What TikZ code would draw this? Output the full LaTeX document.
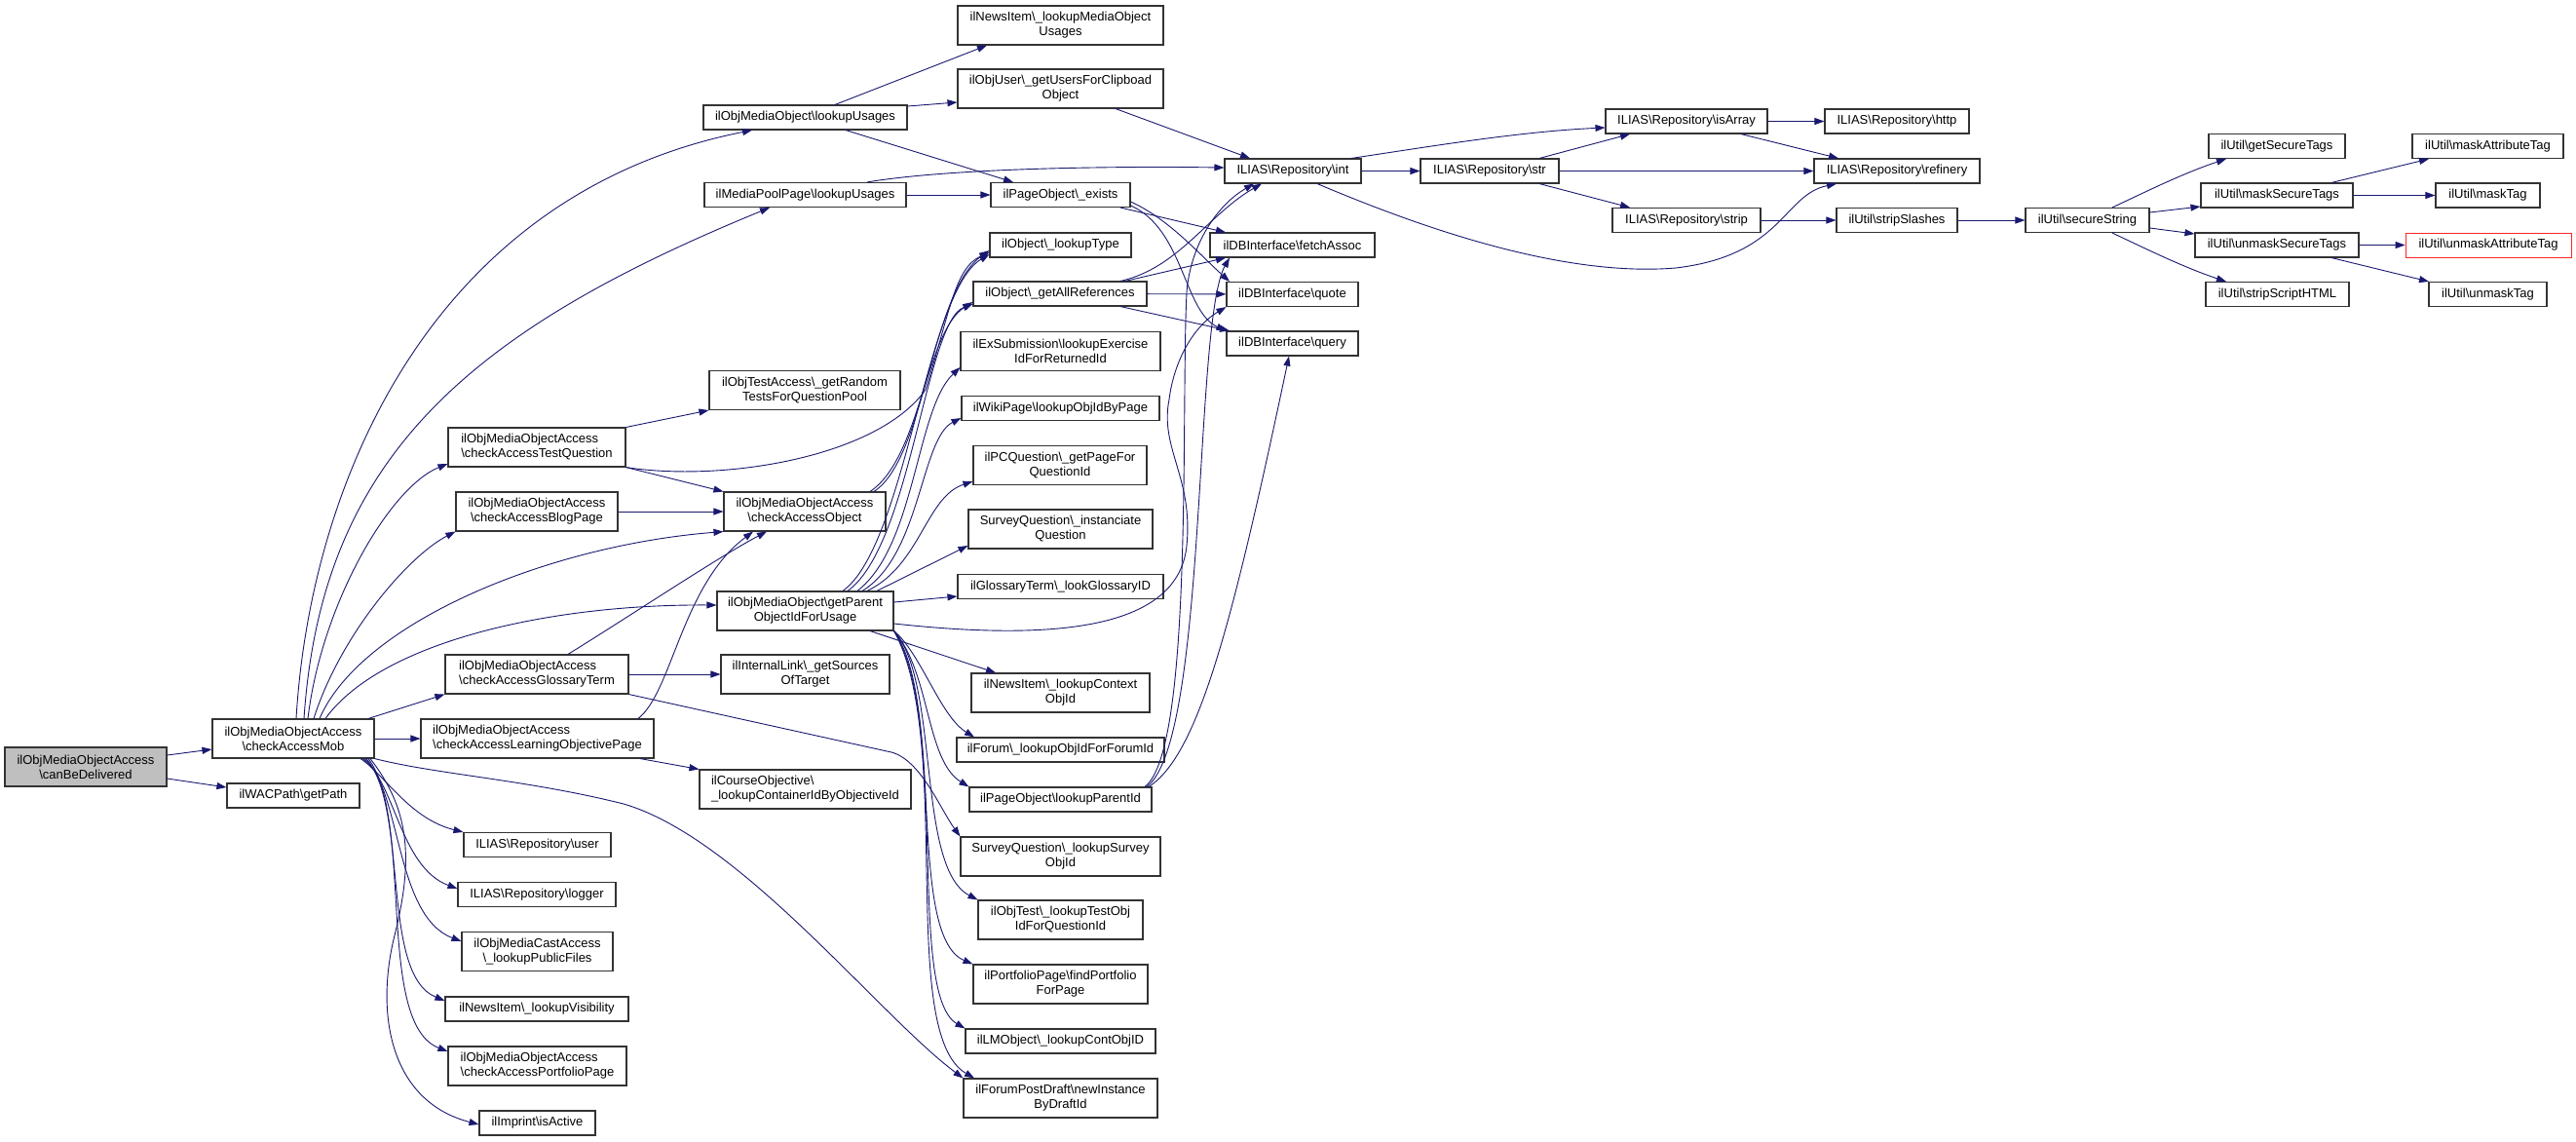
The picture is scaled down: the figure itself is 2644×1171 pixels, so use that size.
\documentclass[tikz,border=0pt]{standalone}
\usepackage{fontspec}
\setmainfont{Liberation Sans}
\usetikzlibrary{arrows.meta}
\definecolor{edgeblue}{RGB}{25,25,112}
\definecolor{rootgray}{RGB}{191,191,191}
\newcommand{\bsl}{\textbackslash}

\begin{document}
\begin{tikzpicture}[x=1pt, y=-1pt,
	fn/.style={draw=black!80, line width=1.1pt, fill=white, inner sep=0pt, align=center, font=\fontsize{13}{15}\selectfont},
	wd/.style={minimum width=#1pt},
	one/.style={minimum height=25pt},
	two/.style={minimum height=40pt},
	call/.style={draw=edgeblue, line width=0.9pt, -{Triangle[length=10pt,width=7pt]}}]
		\fill[white] (0,0) rectangle (2644,1171);
		\useasboundingbox (0,0) rectangle (2644,1171);
		
		% caller
		\node[fn, wd=166, two, fill=rootgray] (root) at (88,787) {ilObjMediaObjectAccess\\\bsl canBeDelivered};
		\node[fn, wd=166, two] (mob) at (301,758) {ilObjMediaObjectAccess\\\bsl checkAccessMob};
		\node[fn, wd=136, one] (getpath) at (301,816.5) {ilWACPath\bsl getPath};
		
		% second column
		\node[fn, wd=182, two, align=left] (testq) at (551,459) {ilObjMediaObjectAccess\\\bsl checkAccessTestQuestion};
		\node[fn, wd=166, two] (blog) at (551,525) {ilObjMediaObjectAccess\\\bsl checkAccessBlogPage};
		\node[fn, wd=188, two, align=left] (glossary) at (551,692) {ilObjMediaObjectAccess\\\bsl checkAccessGlossaryTerm};
		\node[fn, wd=239, two, align=left] (lobj) at (551.5,758) {ilObjMediaObjectAccess\\\bsl checkAccessLearningObjectivePage};
		\node[fn, wd=151, one] (user) at (551.5,867) {ILIAS\bsl Repository\bsl user};
		\node[fn, wd=162, one] (logger) at (551,918) {ILIAS\bsl Repository\bsl logger};
		\node[fn, wd=155, two] (pubfiles) at (551.5,976.5) {ilObjMediaCastAccess\\\bsl\_lookupPublicFiles};
		\node[fn, wd=188, one] (visibility) at (551,1035.5) {ilNewsItem\bsl\_lookupVisibility};
		\node[fn, wd=183, two, align=left] (portfolio) at (551.5,1094) {ilObjMediaObjectAccess\\\bsl checkAccessPortfolioPage};
		\node[fn, wd=119, one] (imprint) at (551.5,1152.5) {ilImprint\bsl isActive};
		
		% third column
		\node[fn, wd=209, one] (mobusages) at (826.5,120.5) {ilObjMediaObject\bsl lookupUsages};
		\node[fn, wd=207, one] (poolusages) at (826.5,200) {ilMediaPoolPage\bsl lookupUsages};
		\node[fn, wd=196, two] (randomtests) at (826,400.5) {ilObjTestAccess\bsl\_getRandom\\TestsForQuestionPool};
		\node[fn, wd=166, two] (accobj) at (826,525) {ilObjMediaObjectAccess\\\bsl checkAccessObject};
		\node[fn, wd=181, two] (parent) at (826.5,627) {ilObjMediaObject\bsl getParent\\ObjectIdForUsage};
		\node[fn, wd=173, two] (sources) at (826.5,692) {ilInternalLink\bsl\_getSources\\OfTarget};
		\node[fn, wd=217, two, align=left] (courseobj) at (826.5,810) {ilCourseObjective\bsl\\\_lookupContainerIdByObjectiveId};
		
		% fourth column
		\node[fn, wd=211, two] (mediausages) at (1088.5,26) {ilNewsItem\bsl\_lookupMediaObject\\Usages};
		\node[fn, wd=211, two] (clipboard) at (1088.5,91) {ilObjUser\bsl\_getUsersForClipboad\\Object};
		\node[fn, wd=143, one] (exists) at (1088.5,200) {ilPageObject\bsl\_exists};
		\node[fn, wd=145, one] (lookuptype) at (1088.5,251.5) {ilObject\bsl\_lookupType};
		\node[fn, wd=178, one] (allrefs) at (1088,301.5) {ilObject\bsl\_getAllReferences};
		\node[fn, wd=205, two] (exsub) at (1088.5,360.5) {ilExSubmission\bsl lookupExercise\\IdForReturnedId};
		\node[fn, wd=203, one] (wiki) at (1088.5,419) {ilWikiPage\bsl lookupObjIdByPage};
		\node[fn, wd=178, two] (pcq) at (1088,477.5) {ilPCQuestion\bsl\_getPageFor\\QuestionId};
		\node[fn, wd=189, two] (instanciate) at (1088.5,543) {SurveyQuestion\bsl\_instanciate\\Question};
		\node[fn, wd=211, one] (lookglossary) at (1088.5,602) {ilGlossaryTerm\bsl\_lookGlossaryID};
		\node[fn, wd=183, two] (contextobj) at (1088.5,711) {ilNewsItem\bsl\_lookupContext\\ObjId};
		\node[fn, wd=213, one] (forum) at (1088.5,769.5) {ilForum\bsl\_lookupObjIdForForumId};
		\node[fn, wd=187, one] (parentid) at (1088.5,820.5) {ilPageObject\bsl lookupParentId};
		\node[fn, wd=205, two] (surveyobj) at (1088.5,879) {SurveyQuestion\bsl\_lookupSurvey\\ObjId};
		\node[fn, wd=169, two] (testobj) at (1088.5,944) {ilObjTest\bsl\_lookupTestObj\\IdForQuestionId};
		\node[fn, wd=179, two] (findportfolio) at (1088.5,1010) {ilPortfolioPage\bsl findPortfolio\\ForPage};
		\node[fn, wd=195, one] (contobj) at (1088.5,1068.5) {ilLMObject\bsl\_lookupContObjID};
		\node[fn, wd=199, two] (draft) at (1088.5,1127) {ilForumPostDraft\bsl newInstance\\ByDraftId};
		
		% repository and database
		\node[fn, wd=140, one] (int) at (1327,175.5) {ILIAS\bsl Repository\bsl int};
		\node[fn, wd=169, one] (fetch) at (1326.5,251.5) {ilDBInterface\bsl fetchAssoc};
		\node[fn, wd=135, one] (quote) at (1326.5,302) {ilDBInterface\bsl quote};
		\node[fn, wd=135, one] (query) at (1326.5,352.5) {ilDBInterface\bsl query};
		\node[fn, wd=142, one] (str) at (1529,175.5) {ILIAS\bsl Repository\bsl str};
		\node[fn, wd=166, one] (isarray) at (1731,124.5) {ILIAS\bsl Repository\bsl isArray};
		\node[fn, wd=152, one] (strip) at (1731,226) {ILIAS\bsl Repository\bsl strip};
		\node[fn, wd=148, one] (http) at (1947,124.5) {ILIAS\bsl Repository\bsl http};
		\node[fn, wd=170, one] (refinery) at (1947,175.5) {ILIAS\bsl Repository\bsl refinery};
		\node[fn, wd=124, one] (slashes) at (1947,226) {ilUtil\bsl stripSlashes};
		
		% ilUtil
		\node[fn, wd=127, one] (secure) at (2142.5,226) {ilUtil\bsl secureString};
		\node[fn, wd=140, one] (gettags) at (2337,150) {ilUtil\bsl getSecureTags};
		\node[fn, wd=156, one] (masktags) at (2337,200.5) {ilUtil\bsl maskSecureTags};
		\node[fn, wd=168, one] (unmasktags) at (2337,251.5) {ilUtil\bsl unmaskSecureTags};
		\node[fn, wd=147, one] (scripthtml) at (2337.5,302) {ilUtil\bsl stripScriptHTML};
		\node[fn, wd=155, one] (maskattr) at (2553.5,150) {ilUtil\bsl maskAttributeTag};
		\node[fn, wd=107, one] (masktag) at (2553.5,200.5) {ilUtil\bsl maskTag};
		\node[fn, wd=170, one, draw=red!85, line width=0.8pt] (unmaskattr) at (2554,251.5) {ilUtil\bsl unmaskAttributeTag};
		\node[fn, wd=121, one] (unmasktag) at (2553.5,302) {ilUtil\bsl unmaskTag};
		
		% straight calls between boxes on one line
		\foreach \a/\b in {mob/lobj, blog/accobj, glossary/sources, poolusages/exists, allrefs/quote, int/str, str/refinery, isarray/http, strip/slashes, slashes/secure, masktags/masktag, unmasktags/unmaskattr}{
			\draw[call] (\a) -- (\b);
		}
		
		% canBeDelivered
		\draw[call] (root.east |- 0,775) -- (mob.west |- 0,769);
		\draw[call] (root.east |- 0,799) -- (getpath.west |- 0,808);
		
		% checkAccessMob, upwards
		\draw[call] (mob.north -| 304,0) .. controls (318,500) and (440,200) .. (mobusages.south -| 772,0);
		\draw[call] (mob.north -| 312,0) .. controls (330,470) and (480,340) .. (poolusages.south -| 790,0);
		\draw[call] (mob.north -| 316,0) .. controls (330,620) and (400,500) .. (testq.west |- 0,476);
		\draw[call] (mob.north -| 322,0) .. controls (350,650) and (420,570) .. (blog.south west);
		\draw[call] (mob.north -| 328,0) .. controls (370,640) and (560,560) .. (accobj.south west);
		\draw[call] (mob.north -| 334,0) .. controls (390,660) and (560,620) .. (parent.west |- 0,621);
		\draw[call] (mob.north -| 378,0) -- (glossary.south west);
		% checkAccessMob, downwards
		\draw[call] (mob.south -| 370,0) .. controls (395,795) and (420,840) .. (user.north west);
		\draw[call] (mob.south -| 372,0) .. controls (405,800) and (410,890) .. (logger.west |- 0,912);
		\draw[call] (mob.south -| 374,0) .. controls (412,810) and (405,940) .. (pubfiles.west |- 0,966);
		\draw[call] (mob.south -| 376,0) .. controls (420,830) and (390,1000) .. (visibility.west |- 0,1027);
		\draw[call] (mob.south -| 378,0) .. controls (425,840) and (385,1050) .. (portfolio.west |- 0,1079);
		\draw[call] (mob.south -| 380,0) .. controls (420,830) and (425,880) .. (405,960) .. controls (385,1040) and (400,1130) .. (imprint.west |- 0,1154);
		\draw[call] (mob.south east) .. controls (450,795) and (540,800) .. (640,825) .. controls (760,860) and (900,1040) .. (draft.north west);
		
		% second column
		\draw[call] (testq.north east) -- (randomtests.south west);
		\draw[call] (testq.south east) -- (accobj.north west);
		\draw[call] (testq.south east) .. controls (740,495) and (900,470) .. (950,400) .. controls (975,320) and (980,275) .. (lookuptype.west |- 0,259);
		\draw[call] (glossary.north -| 583,0) .. controls (650,630) and (740,570) .. (accobj.south -| 787,0);
		\draw[call] (glossary.south east) -- (915,772) .. controls (945,780) and (965,830) .. (surveyobj.north west);
		\draw[call] (lobj.north -| 655,0) .. controls (690,710) and (700,600) .. (accobj.south -| 773,0);
		\draw[call] (lobj.south -| 657,0) -- (courseobj.north west);
		
		% checkAccessObject
		\draw[call] (accobj.north -| 897,0) .. controls (950,470) and (955,300) .. (lookuptype.west |- 0,257);
		\draw[call] (accobj.north -| 893,0) .. controls (945,470) and (950,340) .. (allrefs.west |- 0,310);
		
		% getParentObjectIdForUsage
		\draw[call] (parent.north -| 865,0) .. controls (930,560) and (950,300) .. (lookuptype.west |- 0,261);
		\draw[call] (parent.north -| 870,0) .. controls (935,560) and (950,330) .. (allrefs.west |- 0,312);
		\draw[call] (parent.north -| 880,0) .. controls (940,560) and (940,420) .. (exsub.west |- 0,377);
		\draw[call] (parent.north -| 885,0) .. controls (945,570) and (945,450) .. (wiki.west |- 0,429);
		\draw[call] (parent.north -| 890,0) .. controls (945,580) and (950,510) .. (pcq.west |- 0,494);
		\draw[call] (parent.north -| 900,0) -- (instanciate.west |- 0,560);
		\draw[call] (parent.east |- 0,618) -- (lookglossary.west |- 0,612);
		\draw[call] (parent.east |- 0,640) .. controls (1100,660) and (1210,640) .. (1218,560) .. controls (1225,490) and (1190,460) .. (1200,410) .. controls (1205,370) and (1225,335) .. (quote.south west);
		\draw[call] (parent.south -| 893,0) -- (contextobj.north -| 1022,0);
		\draw[call] (parent.south east) .. controls (945,670) and (965,735) .. (forum.north -| 1000,0);
		\draw[call] (parent.south east) .. controls (955,690) and (950,780) .. (parentid.north west);
		\draw[call] (parent.south east) .. controls (965,700) and (940,890) .. (testobj.north west);
		\draw[call] (parent.south east) .. controls (970,720) and (930,960) .. (findportfolio.north west);
		\draw[call] (parent.south east) .. controls (975,740) and (930,1020) .. (contobj.north west);
		\draw[call] (parent.south east) .. controls (980,760) and (920,1060) .. (draft.north -| 1000,0);
		
		% lookupUsages
		\draw[call] (mobusages.north -| 857,0) -- (mediausages.south -| 1013,0);
		\draw[call] (mobusages.east |- 0,109) -- (clipboard.west |- 0,105);
		\draw[call] (mobusages.south -| 868,0) -- (exists.north -| 1040,0);
		\draw[call] (poolusages.north -| 890,0) .. controls (960,175) and (1100,170) .. (int.west |- 0,172);
		\draw[call] (clipboard.south -| 1145,0) -- (int.north -| 1283,0);
		
		% database
		\draw[call] (exists.south -| 1150,0) -- (fetch.north -| 1258,0);
		\draw[call] (exists.east |- 0,207) .. controls (1200,225) and (1230,260) .. (quote.north -| 1262,0);
		\draw[call] (exists.east |- 0,211) .. controls (1215,235) and (1215,320) .. (query.north west);
		\draw[call] (allrefs.north -| 1150,0) .. controls (1210,275) and (1240,220) .. (int.south -| 1295,0);
		\draw[call] (allrefs.north -| 1155,0) -- (fetch.south -| 1258,0);
		\draw[call] (allrefs.south -| 1150,0) -- (query.north -| 1262,0);
		\draw[call] (parentid.north -| 1175,0) .. controls (1225,770) and (1212,420) .. (1218,300) .. controls (1222,250) and (1250,210) .. (int.south -| 1287,0);
		\draw[call] (parentid.north -| 1177,0) .. controls (1240,760) and (1225,330) .. (fetch.south -| 1262,0);
		\draw[call] (parentid.north -| 1179,0) .. controls (1230,775) and (1265,640) .. (query.south -| 1323,0);
		
		% repository
		\draw[call] (int.north -| 1387,0) .. controls (1470,150) and (1560,135) .. (isarray.west |- 0,131);
		\draw[call] (int.south -| 1352,0) .. controls (1450,230) and (1600,285) .. (1720,275) .. controls (1830,262) and (1830,200) .. (refinery.south -| 1885,0);
		\draw[call] (str.north -| 1580,0) -- (isarray.south -| 1673,0);
		\draw[call] (str.south -| 1580,0) -- (strip.north -| 1673,0);
		\draw[call] (isarray.south -| 1787,0) -- (refinery.north -| 1887,0);
		
		% secureString
		\draw[call] (secure.north -| 2168,0) .. controls (2200,198) and (2240,178) .. (gettags.south -| 2285,0);
		\draw[call] (secure.east |- 0,218) -- (masktags.west |- 0,212);
		\draw[call] (secure.east |- 0,234) -- (unmasktags.west |- 0,240);
		\draw[call] (secure.south -| 2168,0) .. controls (2200,254) and (2240,274) .. (scripthtml.north -| 2285,0);
		\draw[call] (masktags.north -| 2393,0) -- (maskattr.south -| 2493,0);
		\draw[call] (unmasktags.south -| 2393,0) -- (unmasktag.north -| 2493,0);
	\end{tikzpicture}
\end{document}
